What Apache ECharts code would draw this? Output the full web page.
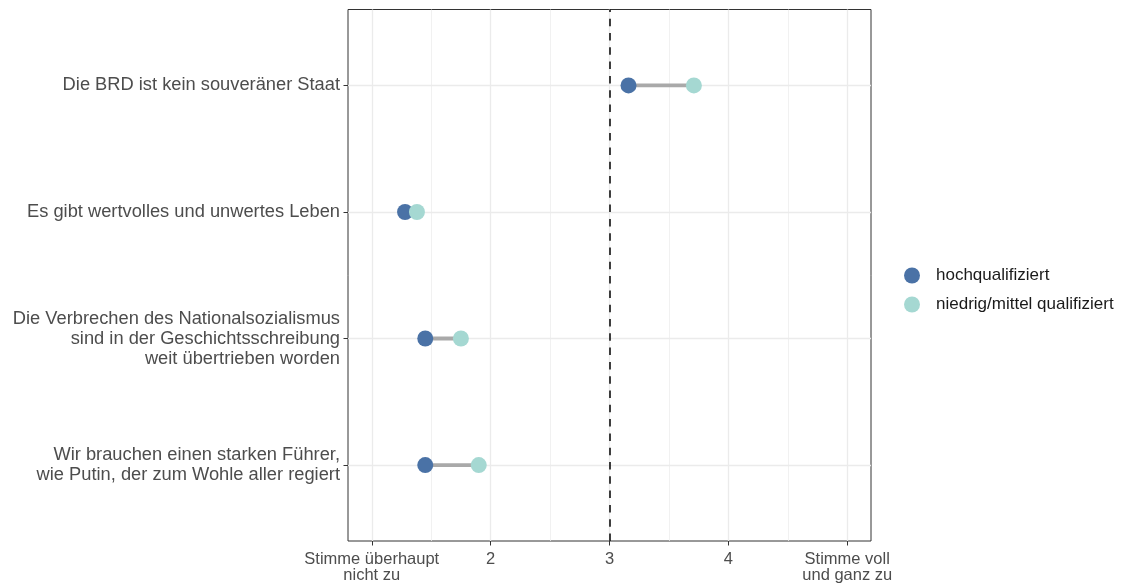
<!DOCTYPE html>
<html>
<head>
<meta charset="utf-8">
<script src="https://cdn.jsdelivr.net/npm/echarts@6/dist/echarts.min.js"></script>
<style>
html,body{margin:0;padding:0;background:#fff;}
#chart{width:1124px;height:586px;}
</style>
</head>
<body>
<div id="chart"></div>
<script>
const categories = [
  "Die BRD ist kein souveräner Staat",
  "Es gibt wertvolles und unwertes Leben",
  "Die Verbrechen des Nationalsozialismus\nsind in der Geschichtsschreibung\nweit übertrieben worden",
  "Wir brauchen einen starken Führer,\nwie Putin, der zum Wohle aller regiert"
];
const seriesNames = ["hochqualifiziert", "niedrig/mittel qualifiziert"];
const hochValues = [3.16, 1.28, 1.45, 1.45];
const niedrigValues = [3.71, 1.38, 1.75, 1.90];
const xTickValues = [1, 2, 3, 4, 5];
const xTickLabels = ["Stimme überhaupt\nnicht zu", "2", "3", "4", "Stimme voll\nund ganz zu"];
const xMinorGrid = [1.5, 2.5, 3.5, 4.5];
const referenceValue = 3;

const n = categories.length;
const yPos = categories.map((c, i) => n - i);
const FONT = '"Liberation Sans", Arial, Helvetica, sans-serif';

const chart = echarts.init(document.getElementById('chart'), null, {renderer: 'canvas'});

const gridMajorX = xTickValues.map(v => ({xAxis: v, lineStyle: {color: '#EBEBEB', width: 1.3, type: 'solid'}}));
const gridMinorX = xMinorGrid.map(v => ({xAxis: v, lineStyle: {color: '#EEEEEE', width: 0.8, type: 'solid'}}));
const gridMajorY = yPos.map(v => ({yAxis: v, lineStyle: {color: '#EBEBEB', width: 1.3, type: 'solid'}}));

const option = {
  backgroundColor: '#ffffff',
  animation: false,
  textStyle: {fontFamily: FONT},
  grid: {
    left: 348, right: 253, top: 9.5, bottom: 45,
    show: true, borderColor: '#333333', borderWidth: 1, backgroundColor: '#ffffff',
    containLabel: false
  },
  legend: {
    orient: 'vertical',
    left: 904, top: 267,
    itemWidth: 38, itemHeight: 16, itemGap: 12,
    padding: 0,
    icon: 'circle',
    data: seriesNames,
    textStyle: {fontSize: 17, color: '#1a1a1a', fontFamily: FONT}
  },
  xAxis: {
    type: 'value', min: 0.8, max: 5.2,
    axisLine: {show: false},
    splitLine: {show: false},
    axisTick: {show: true, customValues: xTickValues, length: 4.5, lineStyle: {color: '#333333', width: 1}},
    axisLabel: {
      customValues: xTickValues,
      margin: 11,
      fontSize: 16.5, lineHeight: 15.5, color: '#4D4D4D', fontFamily: FONT,
      formatter: function (v) {
        const idx = xTickValues.indexOf(Math.round(v * 1000) / 1000);
        return idx >= 0 ? xTickLabels[idx] : '';
      }
    }
  },
  yAxis: {
    type: 'value', min: 0.4, max: 4.6,
    axisLine: {show: false},
    splitLine: {show: false},
    axisTick: {show: true, customValues: yPos, length: 4.5, lineStyle: {color: '#333333', width: 1}},
    axisLabel: {
      customValues: yPos,
      margin: 8,
      fontSize: 18.3, lineHeight: 20, color: '#4D4D4D', fontFamily: FONT, align: 'right',
      formatter: function (v) {
        const idx = yPos.indexOf(Math.round(v));
        return idx >= 0 ? categories[idx] : '';
      }
    }
  },
  series: [
    {
      type: 'line', name: '_grid', data: [], silent: true, z: 0,
      markLine: {
        silent: true, symbol: ['none', 'none'], label: {show: false},
        data: gridMinorX.concat(gridMajorX).concat(gridMajorY)
      }
    },
    {
      type: 'line', name: '_ref', data: [], silent: true, z: 1,
      markLine: {
        silent: true, symbol: ['none', 'none'], label: {show: false},
        data: [{xAxis: referenceValue, lineStyle: {color: '#000000', width: 1.5, type: [7.5, 6.8]}}]
      }
    },
    {
      type: 'custom', name: '_segments', silent: true, z: 10,
      data: categories.map((c, i) => [hochValues[i], niedrigValues[i], yPos[i]]),
      encode: {x: [0, 1], y: 2},
      renderItem: function (params, api) {
        const p1 = api.coord([api.value(0), api.value(2)]);
        const p2 = api.coord([api.value(1), api.value(2)]);
        return {
          type: 'line',
          shape: {x1: p1[0], y1: p1[1], x2: p2[0], y2: p2[1]},
          style: {stroke: '#A9A9A9', lineWidth: 3.8}
        };
      }
    },
    {
      type: 'scatter', name: seriesNames[0], z: 11,
      symbol: 'circle', symbolSize: 16,
      itemStyle: {color: '#4A72A6', opacity: 1},
      data: categories.map((c, i) => [hochValues[i], yPos[i]])
    },
    {
      type: 'scatter', name: seriesNames[1], z: 12,
      symbol: 'circle', symbolSize: 16,
      itemStyle: {color: '#A5D8D2', opacity: 1},
      data: categories.map((c, i) => [niedrigValues[i], yPos[i]])
    }
  ]
};
chart.setOption(option);
</script>
</body>
</html>
